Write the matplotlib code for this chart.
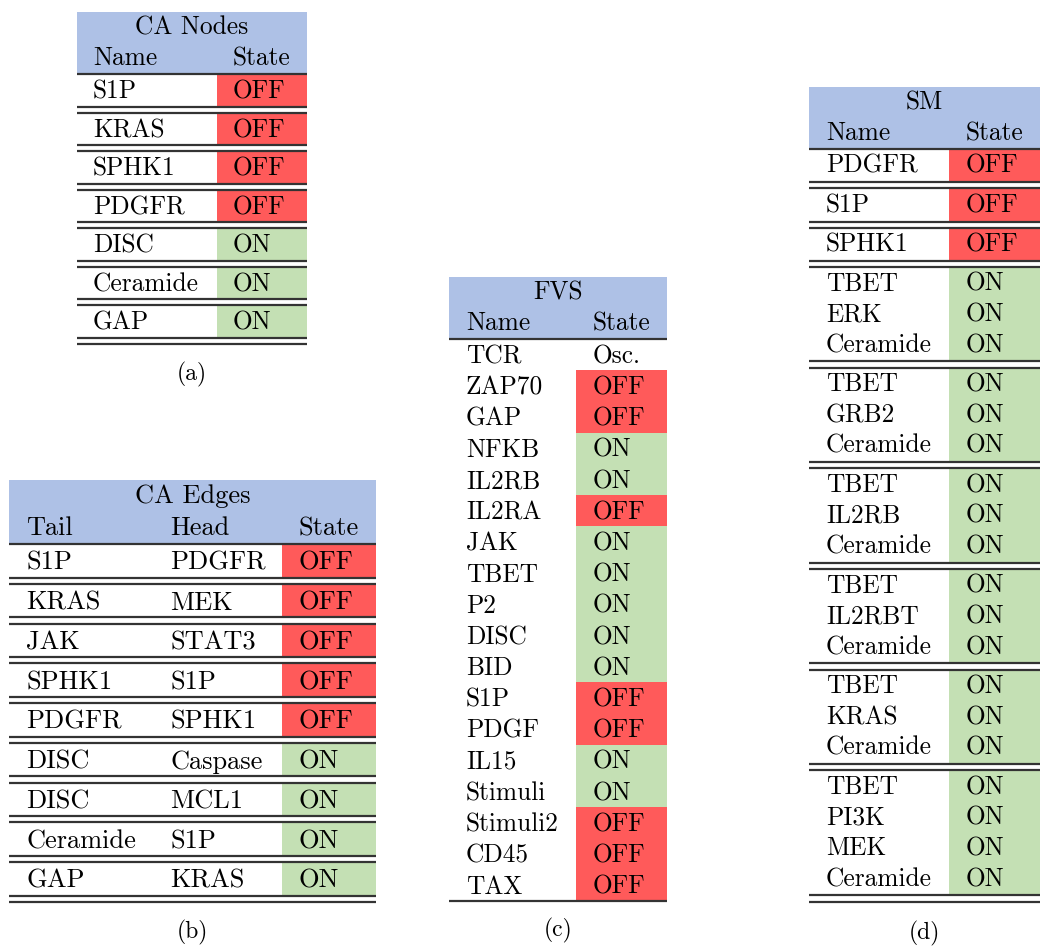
import matplotlib
matplotlib.use("Agg")
import matplotlib.pyplot as plt
from matplotlib.patches import Rectangle

plt.rcParams['font.family'] = ['cmr10', 'DejaVu Serif']

# colours
RED = '#ff5a5a'
GREEN = '#c4e0b4'
BLUE = '#aec1e6'
RULE = '#333333'

# (a) CA Nodes
nodes_name = ["S1P", "KRAS", "SPHK1", "PDGFR", "DISC", "Ceramide", "GAP"]
nodes_state = ["OFF", "OFF", "OFF", "OFF", "ON", "ON", "ON"]

# (b) CA Edges
edges_tail = ["S1P", "KRAS", "JAK", "SPHK1", "PDGFR", "DISC", "DISC", "Ceramide", "GAP"]
edges_head = ["PDGFR", "MEK", "STAT3", "S1P", "SPHK1", "Caspase", "MCL1", "S1P", "KRAS"]
edges_state = ["OFF", "OFF", "OFF", "OFF", "OFF", "ON", "ON", "ON", "ON"]

# (c) FVS
fvs_name = ["TCR", "ZAP70", "GAP", "NFKB", "IL2RB", "IL2RA", "JAK", "TBET", "P2",
            "DISC", "BID", "S1P", "PDGF", "IL15", "Stimuli", "Stimuli2", "CD45", "TAX"]
fvs_state = ["Osc.", "OFF", "OFF", "ON", "ON", "OFF", "ON", "ON", "ON",
             "ON", "ON", "OFF", "OFF", "ON", "ON", "OFF", "OFF", "OFF"]

# (d) SM, one list per block
sm_groups = [["PDGFR"], ["S1P"], ["SPHK1"],
             ["TBET", "ERK", "Ceramide"],
             ["TBET", "GRB2", "Ceramide"],
             ["TBET", "IL2RB", "Ceramide"],
             ["TBET", "IL2RBT", "Ceramide"],
             ["TBET", "KRAS", "Ceramide"],
             ["TBET", "PI3K", "MEK", "Ceramide"]]
sm_state = ["OFF", "OFF", "OFF", "ON", "ON", "ON", "ON", "ON", "ON"]

cell_col = {"OFF": RED, "ON": GREEN, "Osc.": None}

fig = plt.figure(figsize=(10.5, 9.51), dpi=100)
ax = fig.add_axes([0, 0, 1, 1])
ax.set_xlim(0, 1050)
ax.set_ylim(951, 0)
ax.axis('off')


def put(x, yc, s, fs, ha='left'):
    # yc = vertical centre of the capitals
    cap = 0.683 * fs * 100 / 72
    ax.text(x, yc + cap / 2, s, fontsize=fs, ha=ha, va='baseline', color='black')


def rule(x0, x1, y, lw=1.6):
    ax.hlines(y, x0, x1, colors=RULE, lw=lw)


def table(x0, x1, top, title, heads, head_x, sx, blocks, states,
          row_h, pad, gap, fs, ruled=True, hdr=62, dy=0.0, caption=None, cap_y=0):
    # header
    ax.add_patch(Rectangle((x0, top), x1 - x0, hdr, color=BLUE, lw=0))
    put((x0 + x1) / 2, top + hdr * 0.22, title, fs, ha='center')
    for h, hx in zip(heads, head_x):
        put(hx, top + hdr * 0.72, h, fs)
    y = top + hdr
    rule(x0, x1, y)
    for bi, (rows, st) in enumerate(zip(blocks, states)):
        if ruled and bi > 0:
            y += gap
            rule(x0, x1, y)
        bh = len(rows) * row_h + pad
        for ri, r in enumerate(rows):
            yc = y + pad / 2 + (ri + 0.5) * row_h + dy
            for tx, t in zip(head_x[:-1], r):
                put(tx, yc, t, fs)
        # state cells
        if isinstance(st, list):
            for ri, s in enumerate(st):
                c = cell_col[s]
                if c is not None:
                    ax.add_patch(Rectangle((sx, y + pad / 2 + ri * row_h), x1 - sx, row_h,
                                           color=c, lw=0, zorder=0.5))
                put(head_x[-1], y + pad / 2 + (ri + 0.5) * row_h + dy, s, fs)
        else:
            ax.add_patch(Rectangle((sx, y), x1 - sx, bh, color=cell_col[st], lw=0, zorder=0.5))
            for ri in range(len(rows)):
                put(head_x[-1], y + pad / 2 + (ri + 0.5) * row_h + dy, st, fs)
        y += bh
        if ruled:
            rule(x0, x1, y)
    if ruled:
        rule(x0, x1, y + gap)
    ax.text((x0 + x1) / 2, cap_y, caption, fontsize=17, ha='center', va='center')


# (a)
table(77, 307, 12, "CA Nodes", ["Name", "State"], [93, 233], 217,
      [[(n,)] for n in nodes_name], nodes_state,
      row_h=32.5, pad=0, gap=6, fs=18.3, caption="(a)", cap_y=374)

# (b)
table(9, 376, 480, "CA Edges", ["Tail", "Head", "State"], [26, 170, 298], 282,
      [[(t, h)] for t, h in zip(edges_tail, edges_head)], edges_state,
      row_h=33.5, pad=0, gap=6.25, fs=19, hdr=64, caption="(b)", cap_y=932)

# (c)
table(449, 667, 277, "FVS", ["Name", "State"], [466, 593], 576,
      [[(n,) for n in fvs_name]], [fvs_state],
      row_h=31.2, pad=0, gap=0, fs=18.3, ruled=False, caption="(c)", cap_y=930)
rule(449, 667, 277 + 62 + 18 * 31.2)

# (d)
table(809, 1040, 87, "SM", ["Name", "State"], [826, 966], 949,
      [[(n,) for n in g] for g in sm_groups], sm_state,
      row_h=30.65, pad=2.5, gap=6.2, fs=18.3, dy=-1.5, caption="(d)", cap_y=933)

fig.savefig("out.png", dpi=100)
